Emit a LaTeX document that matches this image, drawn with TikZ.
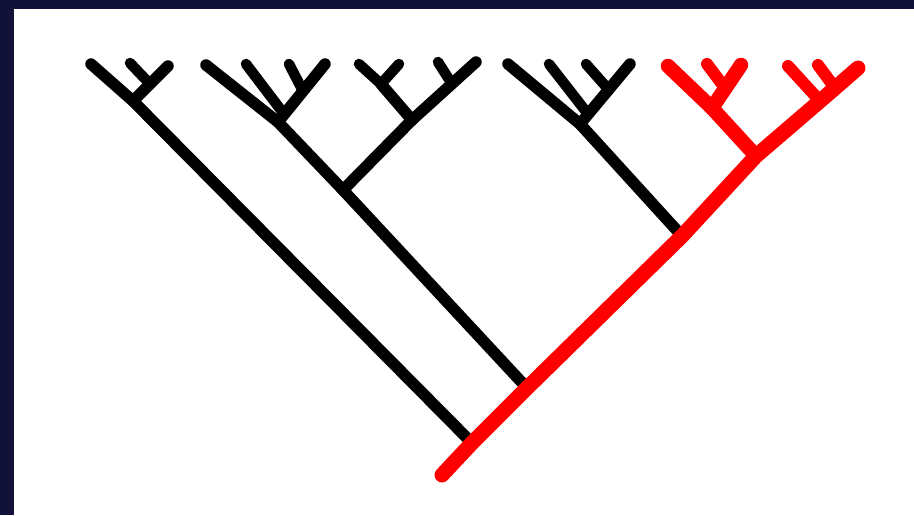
\documentclass[tikz,border=0pt]{standalone}
\definecolor{framenavy}{RGB}{18,18,56}
\definecolor{cladered}{RGB}{255,0,0}
\begin{document}
\begin{tikzpicture}[x=1pt,y=-1pt,
  blackbranch/.style={draw=black,line width=11.5pt,line cap=round,line join=round},
  blacktwig/.style={draw=black,line width=10.5pt,line cap=round,line join=round},
  redtrunk/.style={draw=cladered,line width=15pt,line cap=round,line join=round},
  redbranch/.style={draw=cladered,line width=14.5pt,line cap=round,line join=round},
  redtwig/.style={draw=cladered,line width=12pt,line cap=round,line join=round}]
\useasboundingbox (0,0) rectangle (914,515);
\fill[white] (0,0) rectangle (914,515);
\fill[framenavy] (0,0) rectangle (914,9);
\fill[framenavy] (0,0) rectangle (14,515);
% trunk points
\coordinate (R0) at (442,475);
\coordinate (T1) at (472,443);
\coordinate (T2) at (527,388);
\coordinate (T3) at (682,236);
\coordinate (T4) at (756,156);
\coordinate (N6) at (820,101);
\coordinate (N6b) at (835,88);
\coordinate (TR) at (858,68);
% clade 1
\coordinate (A1) at (91,64);
\coordinate (N1) at (133,101);
\coordinate (C1) at (168,66);
\coordinate (N1b) at (150,84);
\coordinate (B1) at (130,63);
% clade 2
\coordinate (A2) at (206,65);
\coordinate (N2) at (278,122);
\coordinate (N23) at (343,190);
\coordinate (C2) at (325,64);
\coordinate (N2d) at (303,91);
\coordinate (D2) at (289,64);
\coordinate (N2e) at (284,114);
\coordinate (B2) at (246,64);
% clade 3
\coordinate (N3) at (412,120);
\coordinate (N3a) at (381,84);
\coordinate (A3) at (359,64);
\coordinate (B3) at (399,64);
\coordinate (C3) at (476,62);
\coordinate (N3b) at (452,84);
\coordinate (D3) at (438,62);
% clade 4
\coordinate (A4) at (508,64);
\coordinate (N4) at (580,124);
\coordinate (C4) at (630,64);
\coordinate (N4c) at (609,90);
\coordinate (D4) at (586,64);
\coordinate (N4d) at (588,114);
\coordinate (B4) at (549,64);
% red clade
\coordinate (A5) at (668,66);
\coordinate (N5a) at (712,108);
\coordinate (C5) at (741,65);
\coordinate (N5b) at (725,88);
\coordinate (B5) at (707,64);
\coordinate (D6) at (788,66);
\coordinate (E6) at (818,65);
% black branches
\draw[blackbranch] (A1) -- (N1) -- (T1);
\draw[blackbranch] (N1) -- (C1);
\draw[blacktwig] (B1) -- (N1b);
\draw[blackbranch] (A2) -- (N2) -- (N23) -- (T2);
\draw[blackbranch] (N2) -- (C2);
\draw[blacktwig] (D2) -- (N2d);
\draw[blacktwig] (B2) -- (N2e);
\draw[blackbranch] (N3) -- (N23);
\draw[blackbranch] (N3a) -- (N3);
\draw[blacktwig] (A3) -- (N3a);
\draw[blacktwig] (B3) -- (N3a);
\draw[blackbranch] (N3) -- (C3);
\draw[blacktwig] (D3) -- (N3b);
\draw[blackbranch] (A4) -- (N4) -- (T3);
\draw[blackbranch] (N4) -- (C4);
\draw[blacktwig] (D4) -- (N4c);
\draw[blacktwig] (B4) -- (N4d);
% red clade
\draw[redbranch] (A5) -- (N5a) -- (T4);
\draw[redbranch] (N5a) -- (C5);
\draw[redtwig] (B5) -- (N5b);
\draw[redtwig] (D6) -- (N6);
\draw[redtwig] (E6) -- (N6b);
\draw[redtrunk] (R0) -- (T1) -- (T2) -- (T3) -- (T4) -- (N6) -- (N6b) -- (TR);
\end{tikzpicture}
\end{document}
